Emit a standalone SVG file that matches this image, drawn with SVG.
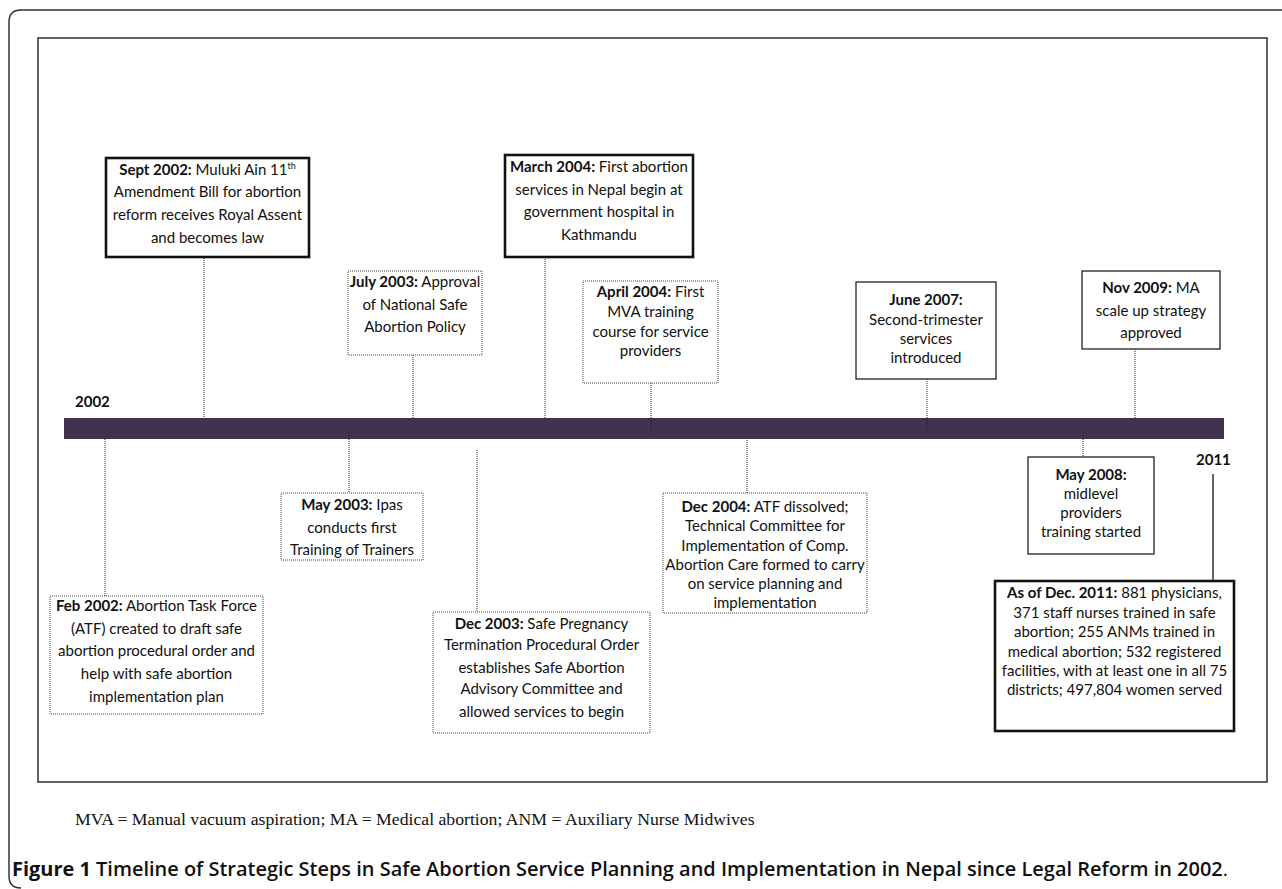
<svg xmlns="http://www.w3.org/2000/svg" width="1282" height="889" viewBox="0 0 1282 889">
<style>
.t{font-family:Lato,"Open Sans","Liberation Sans",sans-serif;font-size:15px;fill:#111;text-anchor:middle}
.b{font-weight:bold}
.sup{font-size:9px}
.thick{fill:#fff;stroke:#111;stroke-width:2.6}
.thin{fill:#fff;stroke:#222;stroke-width:1.3}
.dot{fill:#fff;stroke:#444;stroke-width:1;stroke-dasharray:1 1}
.con{fill:none;stroke:#222;stroke-width:1;stroke-dasharray:1 1}
.yr{font-family:Lato,"Open Sans","Liberation Sans",sans-serif;font-size:15px;font-weight:bold;fill:#111}
</style>
<rect x="0" y="0" width="1282" height="889" fill="#fff"/>
<path d="M1282,10 H21 Q9,10 9,22 V876 Q9,888 21,888" fill="none" stroke="#333" stroke-width="1.5"/>
<rect x="38" y="38" width="1229" height="744" fill="none" stroke="#333" stroke-width="1.5"/>

<g id="timeline">
<rect x="64" y="418" width="1160" height="21" fill="#41334f"/>
<text class="yr" x="75" y="407">2002</text>
<text class="yr" x="1196" y="465">2011</text>
</g>

<g id="connectors">
<line class="con" x1="204" y1="258" x2="204" y2="418"/>
<line class="con" x1="413" y1="355" x2="413" y2="418"/>
<line class="con" x1="545" y1="257" x2="545" y2="418"/>
<line class="con" x1="651" y1="383" x2="651" y2="436"/>
<line class="con" x1="927" y1="379" x2="927" y2="430"/>
<line class="con" x1="1135" y1="349" x2="1135" y2="418"/>
<line class="con" x1="105" y1="439" x2="105" y2="596"/>
<line class="con" x1="349" y1="433" x2="349" y2="493"/>
<line class="con" x1="477" y1="450" x2="477" y2="612"/>
<line class="con" x1="747" y1="440" x2="747" y2="493"/>
<line class="con" x1="1083" y1="433" x2="1083" y2="457"/>
<line x1="1213" y1="474" x2="1213" y2="581" stroke="#333" stroke-width="1.5"/>
</g>

<g id="sep2002">
<rect class="thick" x="106" y="158" width="203" height="99"/>
<text class="t"><tspan x="207.5" y="174.5"><tspan class="b">Sept 2002:</tspan> Muluki Ain 11<tspan class="sup" dy="-6">th</tspan></tspan><tspan x="207.5" y="197">Amendment Bill for abortion</tspan><tspan x="207.5" y="219.5">reform receives Royal Assent</tspan><tspan x="207.5" y="242.5">and becomes law</tspan></text>
</g>

<g id="jul2003">
<rect class="dot" x="348" y="271" width="134" height="84"/>
<text class="t"><tspan x="415" y="287"><tspan class="b">July 2003:</tspan> Approval</tspan><tspan x="415" y="309.5">of National Safe</tspan><tspan x="415" y="332">Abortion Policy</tspan></text>
</g>

<g id="mar2004">
<rect class="thick" x="505" y="155" width="188" height="102"/>
<text class="t"><tspan x="599" y="172"><tspan class="b">March 2004:</tspan> First abortion</tspan><tspan x="599" y="194.5">services in Nepal begin at</tspan><tspan x="599" y="217">government hospital in</tspan><tspan x="599" y="240">Kathmandu</tspan></text>
</g>

<g id="apr2004">
<rect class="dot" x="583" y="281" width="135" height="102"/>
<text class="t"><tspan x="650.5" y="297"><tspan class="b">April 2004:</tspan> First</tspan><tspan x="650.5" y="317">MVA training</tspan><tspan x="650.5" y="336.5">course for service</tspan><tspan x="650.5" y="356">providers</tspan></text>
</g>

<g id="jun2007">
<rect class="thin" x="856" y="282" width="140" height="97"/>
<text class="t"><tspan x="926" y="305" class="b">June 2007:</tspan><tspan x="926" y="324.5">Second-trimester</tspan><tspan x="926" y="344">services</tspan><tspan x="926" y="363">introduced</tspan></text>
</g>

<g id="nov2009">
<rect class="thin" x="1082" y="271" width="138" height="78"/>
<text class="t"><tspan x="1151" y="293"><tspan class="b">Nov 2009:</tspan> MA</tspan><tspan x="1151" y="316">scale up strategy</tspan><tspan x="1151" y="338">approved</tspan></text>
</g>

<g id="feb2002">
<rect class="dot" x="50" y="596" width="213" height="118"/>
<text class="t"><tspan x="156.5" y="611"><tspan class="b">Feb 2002:</tspan> Abortion Task Force</tspan><tspan x="156.5" y="634">(ATF) created to draft safe</tspan><tspan x="156.5" y="656">abortion procedural order and</tspan><tspan x="156.5" y="679">help with safe abortion</tspan><tspan x="156.5" y="702">implementation plan</tspan></text>
</g>

<g id="may2003">
<rect class="dot" x="281" y="493" width="142" height="67"/>
<text class="t"><tspan x="352" y="510"><tspan class="b">May 2003:</tspan> Ipas</tspan><tspan x="352" y="532.5">conducts first</tspan><tspan x="352" y="555">Training of Trainers</tspan></text>
</g>

<g id="dec2003">
<rect class="dot" x="433" y="612" width="217" height="121"/>
<text class="t"><tspan x="541.5" y="628.5"><tspan class="b">Dec 2003:</tspan> Safe Pregnancy</tspan><tspan x="541.5" y="650">Termination Procedural Order</tspan><tspan x="541.5" y="672.5">establishes Safe Abortion</tspan><tspan x="541.5" y="694">Advisory Committee and</tspan><tspan x="541.5" y="716.5">allowed services to begin</tspan></text>
</g>

<g id="dec2004">
<rect class="dot" x="663" y="493" width="204" height="120"/>
<text class="t"><tspan x="765" y="512"><tspan class="b">Dec 2004:</tspan> ATF dissolved;</tspan><tspan x="765" y="531">Technical Committee for</tspan><tspan x="765" y="551">Implementation of Comp.</tspan><tspan x="765" y="570">Abortion Care formed to carry</tspan><tspan x="765" y="589">on service planning and</tspan><tspan x="765" y="608">implementation</tspan></text>
</g>

<g id="may2008">
<rect class="thin" x="1028" y="457" width="126" height="97"/>
<text class="t"><tspan x="1091" y="480" class="b">May 2008:</tspan><tspan x="1091" y="499">midlevel</tspan><tspan x="1091" y="518">providers</tspan><tspan x="1091" y="537">training started</tspan></text>
</g>

<g id="dec2011">
<rect class="thick" x="995" y="581" width="239" height="150"/>
<text class="t"><tspan x="1114.5" y="598"><tspan class="b">As of Dec. 2011:</tspan> 881 physicians,</tspan><tspan x="1114.5" y="618">371 staff nurses trained in safe</tspan><tspan x="1114.5" y="637">abortion; 255 ANMs trained in</tspan><tspan x="1114.5" y="657">medical abortion; 532 registered</tspan><tspan x="1114.5" y="676">facilities, with at least one in all 75</tspan><tspan x="1114.5" y="695">districts; 497,804 women  served</tspan></text>
</g>

<g id="notes">
<text x="75" y="825" font-family="'Liberation Serif',serif" font-size="17.7" fill="#111">MVA = Manual vacuum aspiration; MA = Medical abortion; ANM = Auxiliary Nurse Midwives</text>
<text x="12" y="876" font-family="'Open Sans',Lato,sans-serif" font-size="19.5" font-weight="600" fill="#111" textLength="1216" lengthAdjust="spacingAndGlyphs"><tspan font-weight="bold">Figure 1</tspan> Timeline of Strategic Steps in Safe Abortion Service Planning and Implementation in Nepal since Legal Reform in 2002<tspan font-weight="normal">.</tspan></text>
</g>
</svg>
